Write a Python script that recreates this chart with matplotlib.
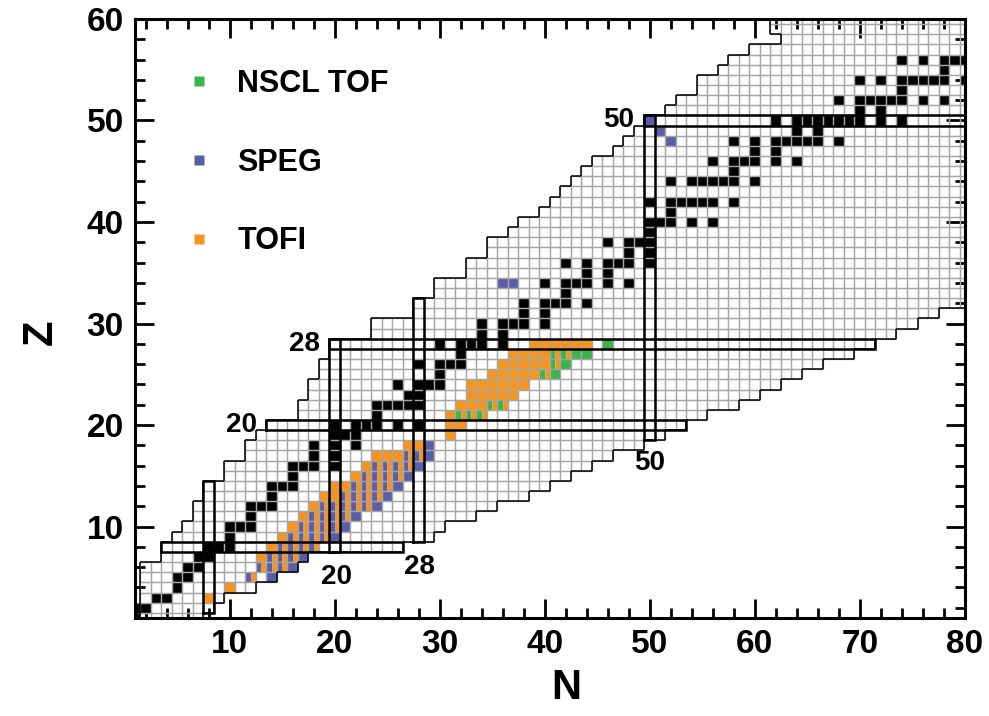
import matplotlib
matplotlib.use('Agg')
import matplotlib.pyplot as plt
from matplotlib.patches import Rectangle
from matplotlib.collections import PatchCollection, LineCollection
from matplotlib.lines import Line2D
from matplotlib.ticker import MultipleLocator

plt.rcParams['font.family'] = ['Liberation Sans', 'DejaVu Sans']
plt.rcParams['font.weight'] = 'bold'

# extent of the chart: first and last N for each Z = 1..60
z_rows = list(range(1, 61))
n_first = [2, 2, 2, 2, 2, 2, 4, 4, 5, 6, 7, 7, 8, 8, 10, 10, 12, 12, 13, 14,
           17, 17, 18, 18, 19, 19, 20, 20, 24, 24, 28, 28, 30, 30, 33, 33, 35, 35, 37, 38,
           40, 41, 42, 43, 44, 45, 47, 48, 49, 50, 52, 53, 55, 55, 57, 58, 60, 63, 62, 62]
n_last = [7, 8, 9, 12, 14, 16, 17, 26, 29, 30, 33, 35, 38, 40, 42, 44, 46, 49, 51, 53,
          55, 58, 60, 62, 64, 66, 69, 71, 73, 75, 77, 80, 80, 80, 80, 80, 80, 80, 80, 80,
          80, 80, 80, 80, 80, 80, 80, 80, 80, 80, 80, 80, 80, 80, 80, 80, 80, 80, 80, 80]

magic = [8, 20, 28, 50]

# stable nuclides, Z -> list of N
stable = {
    1: [0, 1], 2: [1, 2], 3: [3, 4], 4: [5], 5: [5, 6], 6: [6, 7], 7: [7, 8],
    8: [8, 9, 10], 9: [10], 10: [10, 11, 12], 11: [12], 12: [12, 13, 14],
    13: [14], 14: [14, 15, 16], 15: [16], 16: [16, 17, 18, 20], 17: [18, 20],
    18: [18, 20, 22], 19: [20, 21, 22], 20: [20, 22, 23, 24, 26, 28], 21: [24],
    22: [24, 25, 26, 27, 28], 23: [27, 28], 24: [26, 28, 29, 30], 25: [30],
    26: [28, 30, 31, 32], 27: [32], 28: [30, 32, 33, 34, 36], 29: [34, 36],
    30: [34, 36, 37, 38, 40], 31: [38, 40], 32: [38, 40, 41, 42, 44], 33: [42],
    34: [40, 42, 43, 44, 46, 48], 35: [44, 46], 36: [42, 44, 46, 47, 48, 50],
    37: [48, 50], 38: [46, 48, 49, 50], 39: [50], 40: [50, 51, 52, 54, 56],
    41: [52], 42: [50, 52, 53, 54, 55, 56, 58], 44: [52, 54, 55, 56, 57, 58, 60],
    45: [58], 46: [56, 58, 59, 60, 62, 64], 47: [60, 62],
    48: [58, 60, 62, 63, 64, 65, 66, 68], 49: [64, 66],
    50: [62, 64, 65, 66, 67, 68, 69, 70, 72, 74], 51: [70, 72],
    52: [68, 70, 71, 72, 73, 74, 76, 78], 53: [74],
    54: [70, 72, 74, 75, 76, 77, 78, 80], 55: [78], 56: [74, 76, 78, 79, 80],
}

# measured masses, Z -> list of N
tofi = {
    3: [8], 4: [10], 5: [12], 6: [13, 14, 15], 7: [13, 14, 15, 16],
    8: [14, 15, 16, 17, 18], 9: [15, 16, 17, 18, 19], 10: [16, 17, 18, 19, 20],
    11: [17, 18, 19, 20, 21], 12: [18, 19, 20, 21, 22, 23],
    13: [19, 20, 21, 22, 23, 24], 14: [20, 21, 22, 23, 24, 25],
    15: [22, 23, 24, 25, 26], 16: [23, 24, 25, 26, 27], 17: [24, 25, 26, 27, 28],
    18: [27, 28], 19: [31], 20: [31, 32], 21: [31, 32, 33, 34],
    22: [32, 33, 34, 35, 36], 23: [33, 34, 35, 36, 37], 24: [33, 34, 35, 36, 37, 38],
    25: [35, 36, 37, 38, 39, 40], 26: [36, 37, 38, 39, 40, 41],
    27: [37, 38, 39, 40, 41, 42], 28: [39, 40, 41, 42, 43, 44],
}
speg = {
    5: [12, 14], 6: [13, 14, 15, 16], 7: [14, 15, 16, 17], 8: [15, 16, 17, 18],
    9: [16, 17, 18, 19, 20], 10: [17, 18, 19, 20, 21], 11: [18, 19, 20, 21, 22],
    12: [19, 20, 21, 22, 23, 24], 13: [21, 22, 23, 24, 25], 14: [22, 23, 24, 25, 26],
    15: [23, 24, 25, 26, 27], 16: [24, 25, 26, 27, 28], 17: [27, 28, 29], 18: [29],
    34: [36, 37], 48: [52], 49: [51], 50: [50],
}
nscl_tof = {
    21: [32, 33, 34], 22: [35, 36], 25: [40, 41], 26: [41, 42],
    27: [41, 42, 43, 44], 28: [46],
}

c_nscl = '#39b54a'
c_speg = '#5b5ea6'
c_tofi = '#f7941d'
c_grid = '#a6a6a6'

fig = plt.figure(figsize=(9.89, 7.16), dpi=100)
ax = fig.add_axes([0.1365, 0.137, 0.839, 0.8365])

cells = set()
for z, a, b in zip(z_rows, n_first, n_last):
    for n in range(a, b + 1):
        cells.add((n, z))

# coloured fills (split a cell when several experiments measured it)
fills = []
for (n, z) in sorted(cells | {(n, z) for z in stable for n in stable[z]}):
    cols = []
    if n in nscl_tof.get(z, []):
        cols.append(c_nscl)
    if n in speg.get(z, []):
        cols.append(c_speg)
    if n in tofi.get(z, []):
        cols.append(c_tofi)
    if n in stable.get(z, []):
        cols = ['black']
    w = 1.0 / max(len(cols), 1)
    for i, c in enumerate(cols):
        fills.append(Rectangle((n - 0.5 + i * w, z - 0.5), w, 1, facecolor=c, edgecolor='none'))
ax.add_collection(PatchCollection(fills, match_original=True, zorder=1))

# cell grid
grid = [Rectangle((n - 0.5, z - 0.5), 1, 1) for (n, z) in cells]
ax.add_collection(PatchCollection(grid, facecolor='none', edgecolor=c_grid, linewidth=0.9, zorder=2))

# outline of the chart
segs = []
for (n, z) in cells:
    if (n - 1, z) not in cells:
        segs.append([(n - 0.5, z - 0.5), (n - 0.5, z + 0.5)])
    if (n + 1, z) not in cells:
        segs.append([(n + 0.5, z - 0.5), (n + 0.5, z + 0.5)])
    if (n, z - 1) not in cells:
        segs.append([(n - 0.5, z - 0.5), (n + 0.5, z - 0.5)])
    if (n, z + 1) not in cells:
        segs.append([(n - 0.5, z + 0.5), (n + 0.5, z + 0.5)])
ax.add_collection(LineCollection(segs, colors='black', linewidths=1.1, zorder=3))

# magic number boxes
for m in magic:
    a, b = n_first[m - 1] - 0.5, min(n_last[m - 1], 80) + 0.5
    ax.plot([a, b, b, a, a], [m - 0.5, m - 0.5, m + 0.5, m + 0.5, m - 0.5],
            color='black', lw=1.8, zorder=4, solid_joinstyle='miter')
    zs = [z for z, f, l in zip(z_rows, n_first, n_last) if f <= m <= l]
    lo, hi = min(zs) - 0.5, max(zs) + 0.5
    ax.plot([m - 0.5, m - 0.5, m + 0.5, m + 0.5, m - 0.5], [lo, hi, hi, lo, lo],
            color='black', lw=1.8, zorder=4, solid_joinstyle='miter')

lab = dict(fontsize=20, fontweight='bold', zorder=5)
ax.text(12.6, 20, '20', ha='right', va='center', **lab)
ax.text(18.6, 28, '28', ha='right', va='center', **lab)
ax.text(48.5, 50, '50', ha='right', va='center', **lab)
ax.text(20.2, 5.0, '20', ha='center', va='center', **lab)
ax.text(28.1, 6.0, '28', ha='center', va='center', **lab)
ax.text(50.0, 16.3, '50', ha='center', va='center', **lab)

handles = [Line2D([], [], ls='none', marker='s', ms=7.5, mec='none', mfc=c)
           for c in (c_nscl, c_speg, c_tofi)]
ax.legend(handles, ['NSCL TOF', 'SPEG', 'TOFI'], loc='upper left',
          bbox_to_anchor=(0.059, 0.917), frameon=False, borderpad=0, borderaxespad=0,
          handlelength=1.0, handletextpad=0.75, labelspacing=1.6,
          prop={'size': 22, 'weight': 'bold'})

ax.set_xlim(1, 80)
ax.set_ylim(1, 60)
ax.set_xticks(range(10, 81, 10))
ax.set_yticks(range(10, 61, 10))
ax.xaxis.set_minor_locator(MultipleLocator(2))
ax.yaxis.set_minor_locator(MultipleLocator(2))
ax.tick_params(which='both', direction='in', top=True, right=True, width=2, labelsize=24)
ax.tick_params(which='major', length=14, pad=8)
ax.tick_params(which='minor', length=7.5)
for lbl in ax.get_xticklabels() + ax.get_yticklabels():
    lbl.set_fontweight('bold')
for s in ax.spines.values():
    s.set_linewidth(2.2)

ax.set_xlabel('N', fontsize=30, fontweight='bold')
ax.set_ylabel('Z', fontsize=30, fontweight='bold')
ax.xaxis.set_label_coords(0.52, -0.083)
ax.yaxis.set_label_coords(-0.09, 0.477)

fig.savefig('out.png', dpi=100)
